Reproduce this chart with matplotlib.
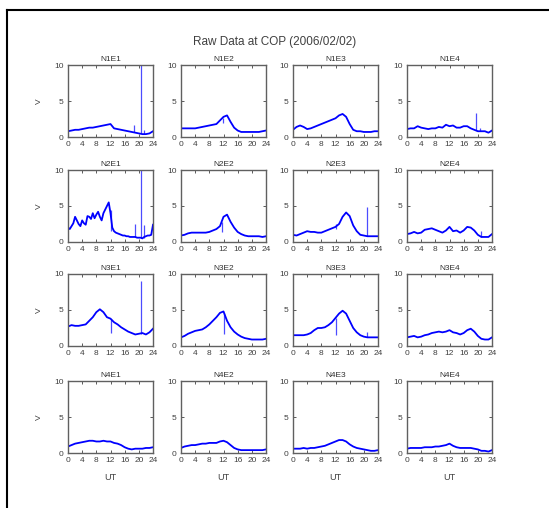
import matplotlib
matplotlib.use("Agg")
import matplotlib.pyplot as plt
from matplotlib.lines import Line2D

plt.rcParams['font.family'] = ['Liberation Sans', 'DejaVu Sans']

# panel names
names = [["N1E1", "N1E2", "N1E3", "N1E4"],
         ["N2E1", "N2E2", "N2E3", "N2E4"],
         ["N3E1", "N3E2", "N3E3", "N3E4"],
         ["N4E1", "N4E2", "N4E3", "N4E4"]]

hours = list(range(25))
half_hours = [i * 0.5 for i in range(49)]

# hourly values (V)
n1e1 = [0.8, 0.9, 1.0, 1.0, 1.1, 1.2, 1.3, 1.3, 1.4, 1.5, 1.6, 1.7, 1.8, 1.2, 1.1, 1.0,
        0.9, 0.8, 0.7, 0.6, 0.5, 0.4, 0.4, 0.5, 0.8]
n1e2 = [1.2, 1.2, 1.2, 1.2, 1.2, 1.3, 1.4, 1.5, 1.6, 1.7, 1.8, 2.3, 2.8, 3.0, 2.1, 1.3,
        0.9, 0.7, 0.7, 0.7, 0.7, 0.7, 0.7, 0.8, 0.9]
n1e3 = [1.0, 1.4, 1.6, 1.4, 1.1, 1.2, 1.4, 1.6, 1.8, 2.0, 2.2, 2.4, 2.6, 3.0, 3.2, 2.8,
        1.8, 1.0, 0.8, 0.8, 0.7, 0.7, 0.7, 0.8, 0.8]
n1e4 = [1.1, 1.2, 1.2, 1.5, 1.3, 1.2, 1.1, 1.2, 1.2, 1.4, 1.3, 1.7, 1.5, 1.6, 1.3, 1.3,
        1.5, 1.5, 1.2, 1.0, 0.8, 0.8, 0.8, 0.6, 0.9]
# N2E1 is very noisy, read every half hour
n2e1 = [2.0, 1.8, 2.2, 2.6, 3.5, 3.0, 2.5, 2.2, 3.0, 2.6, 2.4, 3.6, 3.5, 3.2, 4.0, 3.3,
        3.8, 4.2, 3.5, 3.0, 4.0, 4.5, 5.0, 5.5, 4.0, 2.0, 1.5, 1.3, 1.2, 1.1, 1.0, 0.9,
        0.9, 0.8, 0.8, 0.7, 0.7, 0.7, 0.7, 0.6, 0.6, 0.6, 0.5, 0.7, 0.8, 0.9, 0.9, 1.0, 2.4]
n2e2 = [0.9, 1.0, 1.2, 1.3, 1.3, 1.3, 1.3, 1.3, 1.4, 1.6, 1.8, 2.2, 3.5, 3.8, 2.8, 2.0,
        1.4, 1.1, 0.9, 0.8, 0.8, 0.8, 0.8, 0.7, 0.8]
n2e3 = [1.0, 0.9, 1.1, 1.3, 1.5, 1.4, 1.4, 1.3, 1.3, 1.5, 1.7, 1.9, 2.1, 2.5, 3.5, 4.1,
        3.6, 2.3, 1.5, 1.0, 0.9, 0.8, 0.8, 0.8, 0.8]
n2e4 = [1.1, 1.2, 1.4, 1.2, 1.3, 1.7, 1.8, 1.9, 1.7, 1.5, 1.3, 1.6, 2.1, 1.5, 1.6, 1.3,
        1.6, 2.1, 2.0, 1.6, 1.0, 0.7, 0.7, 0.7, 1.1]
n3e1 = [2.7, 2.9, 2.8, 2.8, 2.9, 3.0, 3.5, 4.0, 4.7, 5.1, 4.7, 4.0, 3.8, 3.3, 3.0, 2.6,
        2.3, 2.0, 1.8, 1.6, 1.7, 1.8, 1.6, 1.9, 2.4]
n3e2 = [1.2, 1.4, 1.7, 1.9, 2.1, 2.2, 2.3, 2.6, 3.0, 3.5, 4.0, 4.6, 4.8, 3.5, 2.6, 2.0,
        1.6, 1.3, 1.1, 1.0, 0.9, 0.9, 0.9, 0.9, 1.0]
n3e3 = [1.5, 1.5, 1.5, 1.5, 1.6, 1.8, 2.2, 2.5, 2.5, 2.6, 2.9, 3.3, 3.9, 4.5, 4.9, 4.5,
        3.5, 2.5, 1.9, 1.5, 1.3, 1.2, 1.2, 1.2, 1.2]
n3e4 = [1.2, 1.3, 1.4, 1.2, 1.3, 1.5, 1.6, 1.8, 1.9, 2.0, 1.9, 2.0, 2.2, 1.9, 1.8, 1.6,
        1.8, 2.2, 2.4, 2.0, 1.4, 1.0, 0.9, 0.9, 1.2]
n4e1 = [0.9, 1.1, 1.3, 1.4, 1.5, 1.6, 1.7, 1.7, 1.6, 1.6, 1.7, 1.6, 1.6, 1.4, 1.3, 1.1,
        0.8, 0.6, 0.5, 0.6, 0.6, 0.6, 0.7, 0.7, 0.8]
n4e2 = [0.7, 0.9, 1.0, 1.1, 1.1, 1.2, 1.3, 1.3, 1.4, 1.4, 1.4, 1.6, 1.7, 1.5, 1.1, 0.7,
        0.5, 0.4, 0.4, 0.4, 0.4, 0.4, 0.4, 0.4, 0.5]
n4e3 = [0.6, 0.6, 0.6, 0.7, 0.6, 0.7, 0.7, 0.8, 0.9, 1.0, 1.2, 1.4, 1.6, 1.8, 1.8, 1.6,
        1.2, 0.9, 0.7, 0.6, 0.5, 0.4, 0.3, 0.3, 0.4]
n4e4 = [0.6, 0.7, 0.7, 0.7, 0.7, 0.8, 0.8, 0.8, 0.9, 0.9, 1.0, 1.1, 1.3, 1.0, 0.8, 0.7,
        0.7, 0.7, 0.7, 0.6, 0.5, 0.3, 0.3, 0.2, 0.4]

series = [[(hours, n1e1), (hours, n1e2), (hours, n1e3), (hours, n1e4)],
          [(half_hours, n2e1), (hours, n2e2), (hours, n2e3), (hours, n2e4)],
          [(hours, n3e1), (hours, n3e2), (hours, n3e3), (hours, n3e4)],
          [(hours, n4e1), (hours, n4e2), (hours, n4e3), (hours, n4e4)]]

# spikes: (UT, low, high)
spikes = {
    "N1E1": [(18.5, 0.7, 1.7), (20.5, 0.5, 10.0), (21.5, 0.4, 1.0)],
    "N1E2": [(11.8, 2.0, 2.7)],
    "N1E4": [(19.5, 1.0, 3.4), (20.5, 0.8, 1.2)],
    "N2E1": [(12.0, 1.5, 4.5), (19.0, 0.7, 2.5), (20.5, 0.6, 10.0), (21.5, 0.5, 2.3)],
    "N2E2": [(11.7, 1.4, 2.8)],
    "N2E3": [(12.0, 1.8, 2.5), (21.0, 0.8, 4.8)],
    "N2E4": [(21.0, 0.7, 1.5)],
    "N3E1": [(12.0, 1.8, 3.8), (20.5, 1.7, 9.0)],
    "N3E2": [(12.0, 1.6, 4.6)],
    "N3E3": [(12.0, 1.5, 3.9), (21.0, 1.2, 2.0)],
}

fig = plt.figure(figsize=(5.49, 5.08), dpi=100)
W, H = 549.0, 508.0

col_left = [68, 181, 293, 407]
row_top = [65, 170, 274, 381]
ax_w, ax_h = 85, 72
gray = '#404040'

for r in range(4):
    for c in range(4):
        ax = fig.add_axes([col_left[c] / W, 1 - (row_top[r] + ax_h) / H, ax_w / W, ax_h / H])
        x, y = series[r][c]
        ax.plot(x, y, color='blue', lw=1.3)
        for t, lo, hi in spikes.get(names[r][c], []):
            ax.vlines(t, lo, hi, color='blue', lw=0.9, alpha=0.7)
        ax.set_xlim(0, 24)
        ax.set_ylim(0, 10)
        ax.set_xticks(range(0, 25, 4))
        ax.set_yticks([0, 5, 10])
        ax.tick_params(direction='in', length=2, width=0.6, labelsize=6,
                       colors=gray, top=True, right=True, pad=3)
        for s in ax.spines.values():
            s.set_color('#606060')
            s.set_linewidth(1.0)
        ax.set_title(names[r][c], fontsize=6, color='#303030', pad=3)
        if c == 0:
            ax.set_ylabel('V', fontsize=6, color=gray, labelpad=8)
        if r == 3:
            ax.set_xlabel('UT', fontsize=6.5, color=gray, labelpad=6)

fig.text(275 / W, 1 - 42 / H, 'Raw Data at COP (2006/02/02)', ha='center', va='center',
         fontsize=8.5, color='#404040')

# outer frame (left and top edges only, rest runs off the picture)
fig.add_artist(Line2D([7 / W, 7 / W], [0, 1 - 10 / H], transform=fig.transFigure, color='black', lw=1.5))
fig.add_artist(Line2D([7 / W, 1], [1 - 10 / H, 1 - 10 / H], transform=fig.transFigure, color='black', lw=1.5))

fig.savefig('out.png', dpi=100)
